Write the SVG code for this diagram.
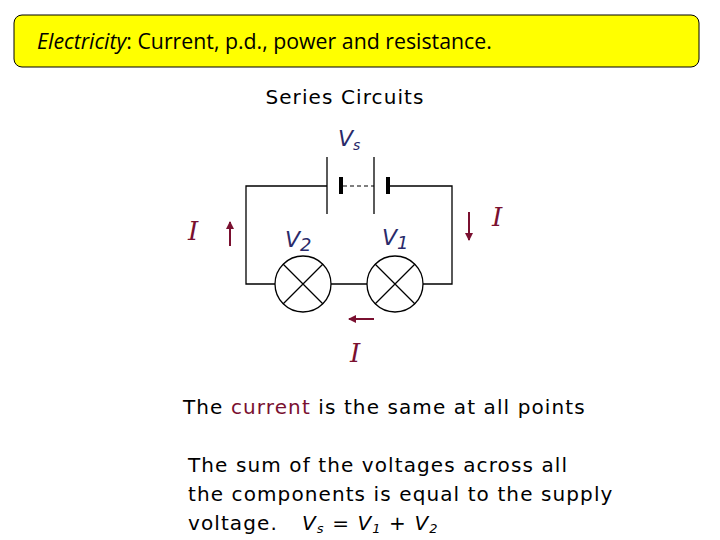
<svg xmlns="http://www.w3.org/2000/svg" width="720" height="540" viewBox="0 0 720 540">
<style>
.w{stroke:#000;stroke-width:1.3;fill:none}
.lab{font-family:"DejaVu Sans",sans-serif;font-style:italic;fill:#2a2a6a;font-size:22px}
.cur{font-family:"DejaVu Serif",serif;font-style:italic;fill:#7a1030;font-size:26px}
.t{font-family:"DejaVu Sans",sans-serif;font-size:20px;fill:#000;letter-spacing:1.1px}
.ar{stroke:#7a1030;stroke-width:2;fill:none;marker-end:url(#ah)}
</style>
<defs><marker id="ah" markerWidth="8" markerHeight="8" refX="7" refY="4" orient="auto" markerUnits="userSpaceOnUse"><path d="M0,0 L8,4 L0,8 z" fill="#7a1030"/></marker></defs>
<g id="header"><rect x="14" y="15" width="685" height="52" rx="8" fill="#ffff00" stroke="#000" stroke-width="1"/>
<text x="37" y="49" font-family="Open Sans,sans-serif" font-size="21.3" fill="#000"><tspan font-style="italic">Electricity</tspan>: Current, p.d., power and resistance.</text></g>
<text x="345" y="104" text-anchor="middle" class="t" font-size="21" letter-spacing="2">Series Circuits</text>
<g id="connectors">
<path class="w" d="M327,186 H246 V284 H275 M331,284 H367 M423,284 H452 V186 H388"/>
<line x1="343" y1="186" x2="374" y2="186" stroke="#000" stroke-width="1.2" stroke-dasharray="4,3"/>
<line class="ar" x1="374" y1="319" x2="349" y2="319"/>
<line class="ar" x1="469" y1="212" x2="469" y2="240"/>
<line class="ar" x1="230" y1="246" x2="230" y2="222"/>
</g>
<g id="battery">
<line class="w" x1="327" y1="157" x2="327" y2="214"/>
<line x1="341" y1="177" x2="341" y2="194" stroke="#000" stroke-width="4"/>
<line class="w" x1="374" y1="157" x2="374" y2="214"/>
<line x1="388" y1="177" x2="388" y2="194" stroke="#000" stroke-width="4"/>
</g>
<g id="lamp2"><circle class="w" cx="303" cy="284" r="28"/><path class="w" d="M283,264 L323,304 M323,264 L283,304"/></g>
<g id="lamp1"><circle class="w" cx="395" cy="284" r="28"/><path class="w" d="M375,264 L415,304 M415,264 L375,304"/></g>
<text class="lab" x="338" y="146">V<tspan font-size="14" dy="4">s</tspan></text>
<text class="lab" x="285" y="247">V<tspan font-size="18" dy="4">2</tspan></text>
<text class="lab" x="382" y="245">V<tspan font-size="18" dy="4">1</tspan></text>
<text class="cur" x="188" y="240">I</text>
<text class="cur" x="492" y="226">I</text>
<text class="cur" x="350" y="362">I</text>
<text class="t" x="183" y="414">The <tspan fill="#7a1030">current</tspan> is the same at all points</text>
<text class="t" x="188" y="472">The sum of the voltages across all</text>
<text class="t" x="188" y="501">the components is equal to the supply</text>
<text class="t" x="188" y="530">voltage.</text>
<text class="t" x="302" y="530" font-style="italic">V<tspan font-size="13" dy="3">s</tspan><tspan dy="-3"> = V</tspan><tspan font-size="13" dy="3">1</tspan><tspan dy="-3"> + V</tspan><tspan font-size="13" dy="3">2</tspan></text>
</svg>
